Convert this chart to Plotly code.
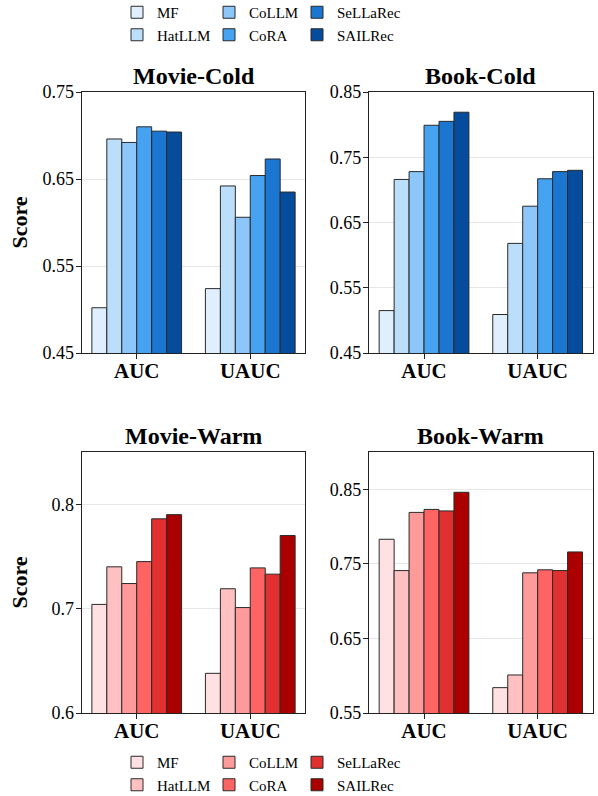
import plotly.graph_objects as go
from plotly.subplots import make_subplots

categories = ["AUC", "UAUC"]
methods = ["MF", "HatLLM", "CoLLM", "CoRA", "SeLLaRec", "SAILRec"]
panel_titles = ["Movie-Cold", "Book-Cold", "Movie-Warm", "Book-Warm"]

movie_cold_auc = [0.502, 0.696, 0.692, 0.710, 0.705, 0.704]
movie_cold_uauc = [0.524, 0.642, 0.606, 0.654, 0.673, 0.635]
book_cold_auc = [0.515, 0.716, 0.728, 0.799, 0.805, 0.819]
book_cold_uauc = [0.509, 0.618, 0.675, 0.717, 0.728, 0.730]
movie_warm_auc = [0.704, 0.740, 0.724, 0.745, 0.786, 0.790]
movie_warm_uauc = [0.638, 0.719, 0.701, 0.739, 0.733, 0.770]
book_warm_auc = [0.783, 0.741, 0.819, 0.823, 0.821, 0.846]
book_warm_uauc = [0.584, 0.601, 0.738, 0.742, 0.741, 0.766]

movie_cold_ticks = [0.45, 0.55, 0.65, 0.75]
book_cold_ticks = [0.45, 0.55, 0.65, 0.75, 0.85]
movie_warm_ticks = [0.6, 0.7, 0.8]
book_warm_ticks = [0.55, 0.65, 0.75, 0.85]
movie_cold_ticktext = ["0.45", "0.55", "0.65", "0.75"]
book_cold_ticktext = ["0.45", "0.55", "0.65", "0.75", "0.85"]
movie_warm_ticktext = ["0.6", "0.7", "0.8"]
book_warm_ticktext = ["0.55", "0.65", "0.75", "0.85"]

movie_cold_range = [0.45, 0.75]
book_cold_range = [0.45, 0.85]
movie_warm_range = [0.60, 0.85]
book_warm_range = [0.55, 0.90]

blue_colors = ["#E0EFFE", "#BBDEFB", "#8CC6FA", "#46A3F2", "#1A76D1", "#064C9C"]
red_colors = ["#FFE0E3", "#FFC0C2", "#FF9A9A", "#FF6464", "#E03030", "#AA0000"]

FONT = "Liberation Serif"
W, H = 598, 796


def fx(px):
    return px / W


def fy(py):
    return 1 - py / H


panels = [
    (1, 1, movie_cold_auc, movie_cold_uauc, blue_colors, movie_cold_range, movie_cold_ticks, movie_cold_ticktext),
    (1, 2, book_cold_auc, book_cold_uauc, blue_colors, book_cold_range, book_cold_ticks, book_cold_ticktext),
    (2, 1, movie_warm_auc, movie_warm_uauc, red_colors, movie_warm_range, movie_warm_ticks, movie_warm_ticktext),
    (2, 2, book_warm_auc, book_warm_uauc, red_colors, book_warm_range, book_warm_ticks, book_warm_ticktext),
]

fig = make_subplots(rows=2, cols=2)

top_legends = ["legend", "legend", "legend2", "legend2", "legend3", "legend3"]
bot_legends = ["legend4", "legend4", "legend5", "legend5", "legend6", "legend6"]

for idx, (r, c, auc, uauc, colors, yr, tv, tt) in enumerate(panels):
    for i, m in enumerate(methods):
        show = (c == 1)
        leg = top_legends[i] if r == 1 else bot_legends[i]
        fig.add_trace(
            go.Bar(
                x=categories,
                y=[auc[i], uauc[i]],
                name=m,
                marker=dict(color=colors[i], line=dict(color="#2A2A2A", width=1)),
                showlegend=show,
                legend=leg,
            ),
            row=r, col=c,
        )
    fig.update_yaxes(
        range=yr, tickvals=tv, ticktext=tt, row=r, col=c,
    )

# domains (pixel based, reference coordinates)
x_doms = [(fx(81.7), fx(305.3)), (fx(369.0), fx(592.7))]
y_doms = [(fy(353.0), fy(92.0)), (fy(713.0), fy(452.0))]

for k, (r, c) in enumerate([(1, 1), (1, 2), (2, 1), (2, 2)]):
    n = "" if k == 0 else str(k + 1)
    fig.layout["xaxis" + n].domain = x_doms[c - 1]
    fig.layout["yaxis" + n].domain = y_doms[r - 1]

fig.update_xaxes(
    range=[-0.4845, 1.4845],
    showline=True, linecolor="#222222", linewidth=1.3, mirror=True,
    ticks="outside", ticklen=5, tickwidth=1, tickcolor="#222222",
    showgrid=False, ticklabelstandoff=-6,
    tickfont=dict(family=FONT, size=21, color="black", weight="bold"),
)
fig.update_yaxes(
    showline=True, linecolor="#222222", linewidth=1.3, mirror=True,
    ticks="outside", ticklen=5, tickwidth=1, tickcolor="#222222",
    showgrid=True, gridcolor="#E6E6E6", gridwidth=1,
    zeroline=False, ticklabelstandoff=-2,
    tickfont=dict(family=FONT, size=18, color="black"),
)

annotations = []
for k, (r, c) in enumerate([(1, 1), (1, 2), (2, 1), (2, 2)]):
    xd = x_doms[c - 1]
    yd = y_doms[r - 1]
    annotations.append(dict(
        text="<b>" + panel_titles[k] + "</b>", x=(xd[0] + xd[1]) / 2, y=yd[1],
        xref="paper", yref="paper", xanchor="center", yanchor="bottom",
        yshift=1, showarrow=False,
        font=dict(family=FONT, size=24, color="black"),
    ))
for r in (1, 2):
    yd = y_doms[r - 1]
    annotations.append(dict(
        text="<b>Score</b>", x=fx(19), y=(yd[0] + yd[1]) / 2,
        xref="paper", yref="paper", xanchor="center", yanchor="middle",
        textangle=-90, showarrow=False,
        font=dict(family=FONT, size=22, color="black"),
    ))

leg_font = dict(family=FONT, size=15, color="black")
leg_common = dict(orientation="v", xanchor="left", yanchor="top", font=leg_font,
                  bgcolor="rgba(0,0,0,0)", tracegroupgap=0, itemwidth=30)
col_x = [fx(117), fx(209), fx(297)]
top_y = fy(-4)
bot_y = fy(746)

fig.update_layout(
    width=W, height=H,
    margin=dict(l=0, r=0, t=0, b=0, autoexpand=False),
    paper_bgcolor="white", plot_bgcolor="white",
    barmode="group", bargap=0.21, bargroupgap=0,
    annotations=annotations,
    legend=dict(x=col_x[0], y=top_y, **leg_common),
    legend2=dict(x=col_x[1], y=top_y, **leg_common),
    legend3=dict(x=col_x[2], y=top_y, **leg_common),
    legend4=dict(x=col_x[0], y=bot_y, **leg_common),
    legend5=dict(x=col_x[1], y=bot_y, **leg_common),
    legend6=dict(x=col_x[2], y=bot_y, **leg_common),
    font=dict(family=FONT, color="black"),
)

fig.write_html(
    "out.html",
    config={"displayModeBar": False},
    post_script="document.body.style.margin='0';document.body.style.overflow='hidden';",
)
